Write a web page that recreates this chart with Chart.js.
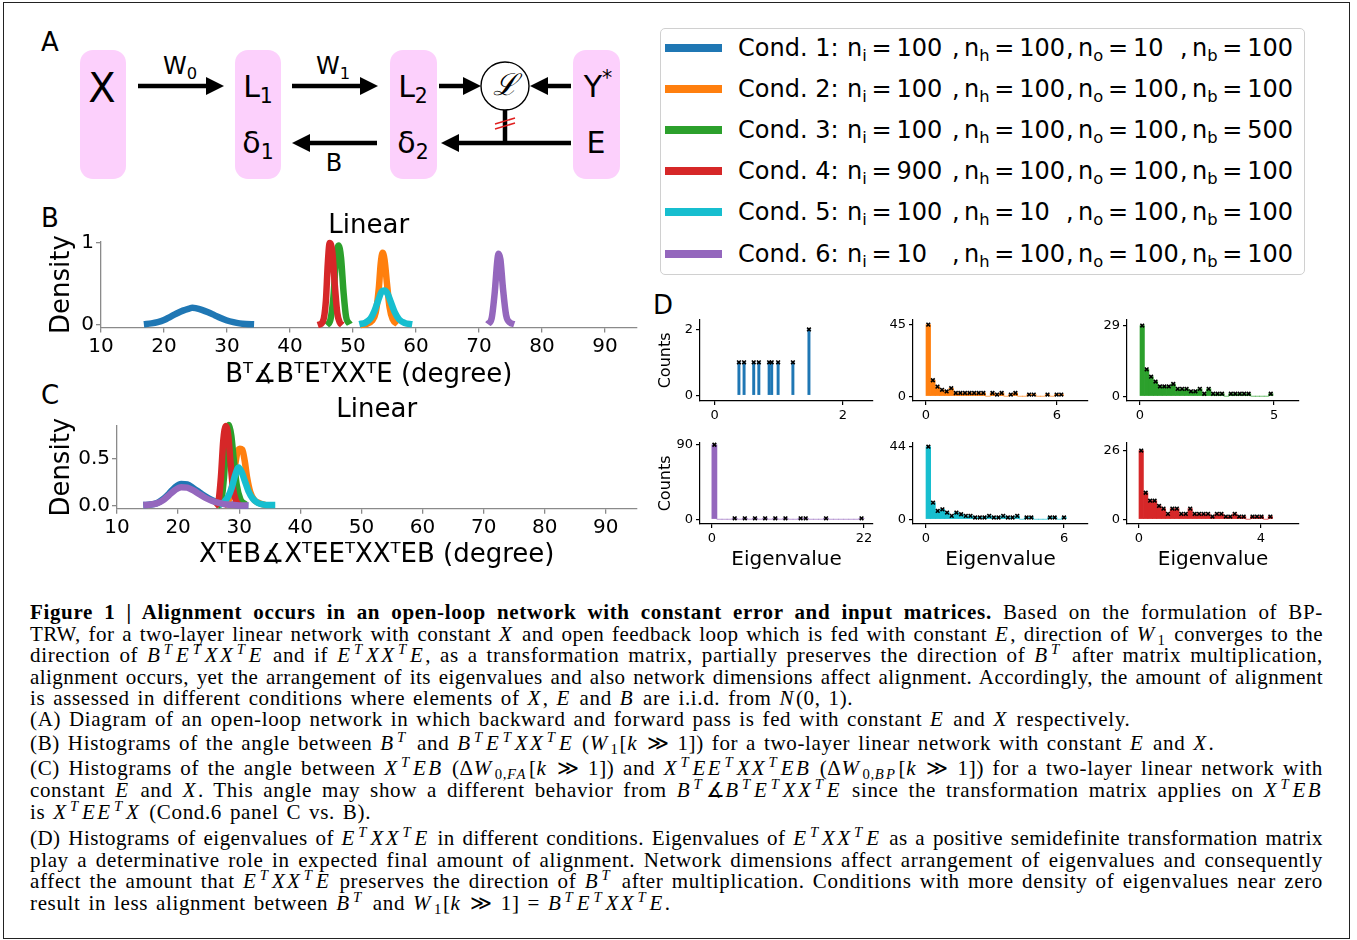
<!DOCTYPE html>
<html><head><meta charset="utf-8">
<script src="https://cdn.jsdelivr.net/npm/chart.js@4.4.1/dist/chart.umd.min.js"></script>
<style>
html,body{margin:0;padding:0;background:#fff;}
body{width:1357px;height:940px;position:relative;overflow:hidden;font-family:"DejaVu Sans",sans-serif;color:#000;}
canvas{position:absolute;}
.abs{position:absolute;}
.c{position:absolute;transform:translate(-50%,-50%);white-space:nowrap;line-height:1;}
.frame{position:absolute;left:3px;top:2px;width:1347px;height:937px;border:1.5px solid #222;box-sizing:border-box;}
.plabel{position:absolute;font-size:26px;line-height:1;transform:translate(-50%,-50%);}
.legend{position:absolute;left:660px;top:28px;width:645px;height:247px;border:1px solid #d0d0d0;border-radius:5px;box-sizing:border-box;background:#fff;}
.lrow{position:absolute;left:0;height:30px;width:1357px;font-size:24px;line-height:30px;}
.lrow span{position:absolute;top:0;white-space:nowrap;}
.lrow .sw{position:absolute;left:665px;top:11px;width:57px;height:8px;}
.lrow sub{font-size:0.68em;vertical-align:-0.28em;line-height:0;}
.cap{position:absolute;left:30px;width:1293px;font-family:"Liberation Serif",serif;font-size:21px;line-height:22px;height:22px;letter-spacing:0.65px;word-spacing:2px;white-space:nowrap;}
.cap.j{text-align:justify;text-align-last:justify;white-space:normal;}
.cap i{letter-spacing:2.4px;}
.cap sup{font-size:0.7em;vertical-align:0.55em;line-height:0;margin:0 1.5px;}
.cap sub{font-size:0.7em;vertical-align:-0.3em;line-height:0;margin:0 1px;}
.dg{font-family:"DejaVu Sans",sans-serif;}
.dg sub{font-size:0.68em;vertical-align:-0.3em;line-height:0;}
.dg sup{font-size:0.68em;vertical-align:0.6em;line-height:0;}
</style></head>
<body>
<div class="frame"></div>

<!-- Panel A diagram -->
<svg class="abs" style="left:0;top:0" width="660" height="200">
  <g fill="#fcd0fc">
    <rect x="80" y="50" width="46" height="129" rx="13"/>
    <rect x="235" y="50" width="46" height="129" rx="13"/>
    <rect x="390" y="50" width="47" height="129" rx="13"/>
    <rect x="573" y="50" width="47" height="129" rx="13"/>
  </g>
  <g stroke="#000" stroke-width="4.5" fill="none">
    <line x1="138" y1="86" x2="210" y2="86"/>
    <line x1="292" y1="86" x2="364" y2="86"/>
    <line x1="439" y1="86" x2="466" y2="86"/>
    <line x1="571" y1="86" x2="545" y2="86"/>
    <line x1="505" y1="110" x2="505" y2="143"/>
    <line x1="571" y1="143" x2="456" y2="143"/>
    <line x1="377" y1="143" x2="306" y2="143"/>
  </g>
  <g fill="#000">
    <polygon points="206,77 224,86 206,95"/>
    <polygon points="360,77 378,86 360,95"/>
    <polygon points="463,77 481,86 463,95"/>
    <polygon points="548,77 530,86 548,95"/>
    <polygon points="459,134 441,143 459,152"/>
    <polygon points="310,134 292,143 310,152"/>
  </g>
  <circle cx="505" cy="86" r="24" fill="#fff" stroke="#000" stroke-width="1.4"/>
  <g stroke="#e02020" stroke-width="1.5">
    <line x1="495" y1="124" x2="515" y2="118"/>
    <line x1="495" y1="129" x2="515" y2="123"/>
  </g>
</svg>
<div class="plabel" style="left:50px;top:42px">A</div>
<div class="c dg" style="left:102px;top:88px;font-size:40px">X</div>
<div class="c dg" style="left:258px;top:87px;font-size:30px">L<sub>1</sub></div>
<div class="c dg" style="left:258px;top:143px;font-size:30px">δ<sub>1</sub></div>
<div class="c dg" style="left:413px;top:87px;font-size:30px">L<sub>2</sub></div>
<div class="c dg" style="left:413px;top:143px;font-size:30px">δ<sub>2</sub></div>
<div class="c dg" style="left:598px;top:87px;font-size:30px">Y<sup>*</sup></div>
<div class="c dg" style="left:596px;top:143px;font-size:30px">E</div>
<div class="c dg" style="left:180px;top:66px;font-size:24px">W<sub>0</sub></div>
<div class="c dg" style="left:333px;top:66px;font-size:24px">W<sub>1</sub></div>
<div class="c dg" style="left:334px;top:163px;font-size:24px">B</div>
<div class="c" style="left:505px;top:85px;font-size:30px;font-family:'DejaVu Serif',serif;font-style:italic">ℒ</div>

<!-- Legend (HTML) -->
<div class="legend"></div>
<div id="legendRows"></div>

<div class="plabel" style="left:50px;top:218px">B</div>
<div class="plabel" style="left:50px;top:395px">C</div>
<div class="plabel" style="left:663px;top:305px">D</div>

<!-- Caption -->
<div class="cap j" style="top:601px"><b>Figure 1 | Alignment occurs in an open-loop network with constant error and input matrices.</b> Based on the formulation of BP-</div>
<div class="cap j" style="top:623px">TRW, for a two-layer linear network with constant <i>X</i> and open feedback loop which is fed with constant <i>E</i>, direction of <i>W</i><sub>1</sub> converges to the</div>
<div class="cap j" style="top:644px">direction of <i>B<sup>T</sup>E<sup>T</sup>XX<sup>T</sup>E</i> and if <i>E<sup>T</sup>XX<sup>T</sup>E</i>, as a transformation matrix, partially preserves the direction of <i>B<sup>T</sup></i> after matrix multiplication,</div>
<div class="cap j" style="top:666px">alignment occurs, yet the arrangement of its eigenvalues and also network dimensions affect alignment. Accordingly, the amount of alignment</div>
<div class="cap" style="top:687px">is assessed in different conditions where elements of <i>X</i>, <i>E</i> and <i>B</i> are i.i.d. from <i>N</i>(0, 1).</div>
<div class="cap" style="top:708px">(A) Diagram of an open-loop network in which backward and forward pass is fed with constant <i>E</i> and <i>X</i> respectively.</div>
<div class="cap" style="top:732px">(B) Histograms of the angle between <i>B<sup>T</sup></i> and <i>B<sup>T</sup>E<sup>T</sup>XX<sup>T</sup>E</i> (<i>W</i><sub>1</sub>[<i>k</i> ≫ 1]) for a two-layer linear network with constant <i>E</i> and <i>X</i>.</div>
<div class="cap j" style="top:757px">(C) Histograms of the angle between <i>X<sup>T</sup>EB</i> (Δ<i>W</i><sub>0,<i>FA</i></sub>[<i>k</i> ≫ 1]) and <i>X<sup>T</sup>EE<sup>T</sup>XX<sup>T</sup>EB</i> (Δ<i>W</i><sub>0,<i>BP</i></sub>[<i>k</i> ≫ 1]) for a two-layer linear network with</div>
<div class="cap j" style="top:779px">constant <i>E</i> and <i>X</i>. This angle may show a different behavior from <i>B<sup>T</sup></i>∡<i>B<sup>T</sup>E<sup>T</sup>XX<sup>T</sup>E</i> since the transformation matrix applies on <i>X<sup>T</sup>EB</i></div>
<div class="cap" style="top:801px">is <i>X<sup>T</sup>EE<sup>T</sup>X</i> (Cond.6 panel C vs. B).</div>
<div class="cap j" style="top:827px">(D) Histograms of eigenvalues of <i>E<sup>T</sup>XX<sup>T</sup>E</i> in different conditions. Eigenvalues of <i>E<sup>T</sup>XX<sup>T</sup>E</i> as a positive semidefinite transformation matrix</div>
<div class="cap j" style="top:849px">play a determinative role in expected final amount of alignment. Network dimensions affect arrangement of eigenvalues and consequently</div>
<div class="cap j" style="top:870px">affect the amount that <i>E<sup>T</sup>XX<sup>T</sup>E</i> preserves the direction of <i>B<sup>T</sup></i> after multiplication. Conditions with more density of eigenvalues near zero</div>
<div class="cap" style="top:892px">result in less alignment between <i>B<sup>T</sup></i> and <i>W</i><sub>1</sub>[<i>k</i> ≫ 1] = <i>B<sup>T</sup>E<sup>T</sup>XX<sup>T</sup>E</i>.</div>

<script>
// ================= DATA =================
// Legend / conditions: [n_i, n_h, n_o, n_b]
const condNames = ['Cond. 1', 'Cond. 2', 'Cond. 3', 'Cond. 4', 'Cond. 5', 'Cond. 6'];
const condNi = ['100', '100', '100', '900', '100', '10'];
const condNh = ['100', '100', '100', '100', '10', '100'];
const condNo = ['10', '100', '100', '100', '100', '100'];
const condNb = ['100', '100', '500', '100', '100', '100'];

// Panel B: angle (degree) vs density
const bCond1 = [[16.8,0.01],[18,0.02],[19,0.035],[20,0.06],[21,0.1],[22,0.14],[23,0.175],[24,0.2],[24.5,0.21],[25,0.205],[26,0.185],[27,0.155],[28,0.12],[29,0.085],[30,0.055],[31,0.035],[32,0.02],[33,0.012],[34.3,0.008]];
const bCond2 = [[51.2,0.0],[52,0.01],[53,0.05],[53.6,0.15],[54.1,0.45],[54.4,0.75],[54.7,0.88],[55,0.8],[55.4,0.5],[55.8,0.22],[56.3,0.07],[57.1,0.01]];
const bCond3 = [[45.8,0.0],[46.4,0.06],[46.9,0.35],[47.3,0.8],[47.7,0.97],[48.1,0.82],[48.5,0.4],[48.9,0.1],[49.5,0.01]];
const bCond4 = [[44.4,0.0],[45.2,0.04],[45.7,0.3],[46.0,0.75],[46.3,1.0],[46.7,0.9],[47.1,0.5],[47.5,0.15],[47.9,0.03],[48.3,0.0]];
const bCond5 = [[51,0.01],[52,0.03],[52.8,0.08],[53.4,0.17],[54,0.3],[54.5,0.4],[55,0.42],[55.5,0.38],[56,0.28],[56.6,0.16],[57.3,0.07],[58.2,0.025],[59.4,0.01]];
const bCond6 = [[71.4,0.01],[72.0,0.08],[72.5,0.4],[72.9,0.78],[73.1,0.87],[73.4,0.8],[73.8,0.45],[74.3,0.12],[74.9,0.03],[75.6,0.01]];
const bXTicks = [10,20,30,40,50,60,70,80,90];
const bYTicks = [0,1];

// Panel C: angle (degree) vs density
const cCond1 = [[14.3,0.01],[15.5,0.015],[16.5,0.03],[17.5,0.07],[18.5,0.13],[19.5,0.2],[20.5,0.235],[21.5,0.23],[22.5,0.19],[23.5,0.145],[24.5,0.1],[25.5,0.065],[26.5,0.04],[27.5,0.025],[28.5,0.015],[30,0.008],[31.5,0.005]];
const cCond2 = [[27.4,0.0],[28.2,0.05],[28.8,0.2],[29.3,0.42],[29.7,0.57],[30.1,0.61],[30.5,0.6],[30.9,0.48],[31.3,0.3],[31.8,0.15],[32.5,0.06],[33.3,0.03],[34.2,0.01]];
const cCond3 = [[26.4,0.0],[27.0,0.04],[27.5,0.3],[27.9,0.7],[28.3,0.86],[28.7,0.75],[29.1,0.5],[29.6,0.22],[30.2,0.07],[31,0.02]];
const cCond4 = [[26.0,0.0],[26.6,0.05],[27.0,0.3],[27.4,0.7],[27.8,0.85],[28.2,0.75],[28.6,0.45],[29.0,0.18],[29.5,0.05],[30,0.01]];
const cCond5 = [[26.7,0.01],[27.5,0.04],[28.2,0.1],[28.8,0.2],[29.3,0.32],[29.9,0.41],[30.4,0.36],[30.9,0.27],[31.5,0.16],[32.2,0.08],[33,0.035],[34,0.015],[35,0.01],[35.9,0.01]];
const cCond6 = [[14.3,0.01],[15.5,0.015],[16.5,0.028],[17.5,0.06],[18.5,0.115],[19.5,0.17],[20.5,0.2],[21.5,0.195],[22.5,0.165],[23.5,0.125],[24.5,0.085],[25.5,0.055],[26.5,0.035],[27.5,0.02],[28.5,0.012],[30,0.006],[31.5,0.004]];
const cXTicks = [10,20,30,40,50,60,70,80,90];
const cYTicks = [0,0.5];

// Panel D: eigenvalue histograms (30 bins from 0 to max eigenvalue)
const dBlueEig = [0.38,0.46,0.61,0.69,0.85,0.89,0.99,1.22,1.47];
const dBlueCnt = [1,1,1,1,1,1,1,1,2];
const dOrangeCnt = [45,10,6,4,3,5,2,2,2,2,2,2,2,0,2,1,2,0,1,2,0,0,1,1,0,0,1,0,1,1];
const dGreenCnt  = [29,11,8,6,4,4,4,5,3,3,3,2,2,3,1,3,1,1,1,0,1,1,1,1,1,0,0,0,0,1];
const dPurpleCnt = [90,0,0,0,1,0,1,0,1,0,1,0,1,0,1,0,0,1,1,0,0,0,1,0,0,0,0,0,0,1];
const dCyanCnt   = [44,10,5,6,4,2,4,3,2,2,1,1,1,2,1,1,2,1,1,2,0,1,1,0,0,0,1,1,0,1];
const dRedCnt    = [26,10,7,7,5,4,2,4,4,2,2,4,2,2,2,2,1,2,2,1,1,2,1,1,0,1,1,1,0,1];
const dMaxEig = {orange: 6.3, green: 4.96, purple: 22, cyan: 6.1, red: 4.38};
const dXTicks = {blue:[0,2], orange:[0,6], green:[0,5], purple:[0,22], cyan:[0,6], red:[0,4]};
const dYTicks = {blue:[0,2], orange:[0,45], green:[0,29], purple:[0,90], cyan:[0,44], red:[0,26]};

// ================= STYLE =================
const condColors = ['#1f77b4','#ff7f0e','#2ca02c','#d62728','#17becf','#9467bd'];
Chart.defaults.font.family = "'DejaVu Sans', sans-serif";
Chart.defaults.color = '#000';

// ---------- Caption: keep each justified line on one line ----------
document.querySelectorAll('.cap.j').forEach(el => {
  el.style.whiteSpace = 'nowrap'; el.style.textAlign = 'left'; el.style.textAlignLast = 'left';
  const range = document.createRange(); range.selectNodeContents(el);
  let ls = 0.65, ws = 2;
  let w = range.getBoundingClientRect().width;
  while (w > 1288 && ls > -1) {
    ls -= 0.05; ws = Math.max(0, ws - 0.1);
    el.style.letterSpacing = ls + 'px'; el.style.wordSpacing = ws + 'px';
    w = range.getBoundingClientRect().width;
  }
  el.style.whiteSpace = ''; el.style.textAlign = ''; el.style.textAlignLast = '';
});

// ---------- Legend ----------
(function(){
  const rowsY = [48, 89, 130, 171, 212, 254];
  const host = document.getElementById('legendRows');
  const eq = '\u2009=\u2009';
  condNames.forEach((nm, i) => {
    const r = document.createElement('div');
    r.className = 'lrow';
    r.style.top = (rowsY[i] - 15) + 'px';
    r.innerHTML =
      `<div class="sw" style="background:${condColors[i]}"></div>` +
      `<span style="left:738px">${nm}:</span>` +
      `<span style="left:847px">n<sub>i</sub>${eq}${condNi[i]}</span>` +
      `<span style="left:952px">,</span>` +
      `<span style="left:964px">n<sub>h</sub>${eq}${condNh[i]}</span>` +
      `<span style="left:1066px">,</span>` +
      `<span style="left:1078px">n<sub>o</sub>${eq}${condNo[i]}</span>` +
      `<span style="left:1180px">,</span>` +
      `<span style="left:1192px">n<sub>b</sub>${eq}${condNb[i]}</span>`;
    host.appendChild(r);
  });
})();

function makeCanvas(id, left, top, w, h){
  const c = document.createElement('canvas');
  c.id = id; c.width = Math.round(w); c.height = Math.round(h);
  c.style.left = left + 'px'; c.style.top = top + 'px';
  c.style.width = Math.round(w) + 'px'; c.style.height = Math.round(h) + 'px';
  document.body.appendChild(c);
  return c;
}

// ---------- Panels B, C ----------
function densityChart(id, o){
  const cv = makeCanvas(id, o.canvasLeft, o.canvasTop, o.canvasW, o.canvasH);
  const ml = o.areaX0 - o.canvasLeft;
  const mr = o.canvasLeft + o.canvasW - o.areaX1;
  const padTop = o.titleY - o.canvasTop - 15.6;
  const titlePadBottom = Math.max(0, o.areaY0 - (o.titleY + 15.6));
  const mb = o.canvasTop + o.canvasH - o.areaY1;
  const gc = '#8a8a8a';
  new Chart(cv, {
    type: 'line',
    data: { datasets: o.curves.map((pts, i) => ({
      label: condNames[i],
      data: pts.map(p => ({x: p[0], y: p[1]})),
      borderColor: condColors[i], backgroundColor: condColors[i],
      borderWidth: 6.5, pointRadius: 0, fill: false,
      cubicInterpolationMode: 'monotone', borderJoinStyle: 'round', borderCapStyle: 'butt',
      order: o.curves.length - 1 - i, clip: 6
    })) },
    options: {
      responsive: false, animation: false, devicePixelRatio: 1,
      layout: { padding: { top: padTop, right: mr, left: 0, bottom: 0 } },
      plugins: {
        legend: { display: false }, tooltip: { enabled: false },
        title: { display: true, text: 'Linear', color: '#000', fullSize: false,
          font: { size: 26, weight: 'normal' }, padding: { top: 0, bottom: titlePadBottom } }
      },
      scales: {
        x: { type: 'linear', min: o.xMin, max: o.xMax,
          afterBuildTicks: s => { s.ticks = o.xTicks.map(v => ({value: v})); },
          ticks: { font: { size: 20 }, color: '#000', padding: 2, maxRotation: 0, autoSkip: false },
          grid: { drawOnChartArea: false, drawTicks: true, tickLength: 5, color: gc, lineWidth: 1.3 },
          border: { display: true, color: gc, width: 1.3 },
          title: { display: true, text: o.xTitle, color: '#000', font: { size: 26 }, padding: { top: 0, bottom: 4.4 } },
          afterFit: s => { s.height = mb; } },
        y: { type: 'linear', min: o.yMin, max: o.yMax,
          afterBuildTicks: s => { s.ticks = o.yTicks.map(v => ({value: v})); },
          ticks: { font: { size: 20 }, color: '#000', padding: 2, callback: o.yFmt },
          grid: { drawOnChartArea: false, drawTicks: true, tickLength: 5, color: gc, lineWidth: 1.3 },
          border: { display: true, color: gc, width: 1.3 },
          title: { display: true, text: 'Density', color: '#000', font: { size: 26 }, padding: { top: 6.4, bottom: 0 } },
          afterFit: s => { s.width = ml; } }
      }
    }
  });
}

densityChart('chartB', {
  canvasLeft: 40, canvasTop: 200, canvasW: 610, canvasH: 195,
  areaX0: 101, areaX1: 636.5, areaY0: 241.6, areaY1: 327.5, titleY: 226,
  curves: [bCond1, bCond2, bCond3, bCond4, bCond5, bCond6],
  xMin: 10, xMax: 95, yMin: -0.0306, yMax: 1.017,
  xTicks: bXTicks, yTicks: bYTicks, yFmt: v => String(v),
  xTitle: 'B\u1D40\u2221B\u1D40E\u1D40XX\u1D40E (degree)'
});

densityChart('chartC', {
  canvasLeft: 40, canvasTop: 385, canvasW: 610, canvasH: 190,
  areaX0: 117, areaX1: 636.4, areaY0: 425.6, areaY1: 508.8, titleY: 410,
  curves: [cCond1, cCond2, cCond3, cCond4, cCond5, cCond6],
  xMin: 10, xMax: 95, yMin: -0.03, yMax: 0.855,
  xTicks: cXTicks, yTicks: cYTicks, yFmt: v => Number(v).toFixed(1),
  xTitle: 'X\u1D40EB\u2221X\u1D40EE\u1D40XX\u1D40EB (degree)'
});

// ---------- Panel D ----------
function binsFrom(counts, maxEig){
  const w = maxEig / counts.length;
  return counts.map((c, i) => ({x: (i + 0.5) * w, y: c}));
}
function histChart(id, o){
  const [x0, y0, x1, y1] = o.area;
  const m = o.m;
  const cv = makeCanvas(id, x0 - m.l, y0 - m.t, (x1 - x0) + m.l + m.r, (y1 - y0) + m.t + m.b);
  const markers = o.bars.filter(p => p.y > 0);
  new Chart(cv, {
    type: 'bar',
    data: { datasets: [
      { type: 'line', data: markers, showLine: false, pointStyle: 'crossRot', pointRadius: 2.6,
        pointBorderWidth: 1.6, pointBorderColor: '#000', pointBackgroundColor: '#000', order: 0, clip: false },
      { type: 'bar', data: o.bars, backgroundColor: o.color, borderWidth: 0,
        barPercentage: 1, categoryPercentage: 1, barThickness: o.barThickness, order: 1, clip: false }
    ] },
    options: {
      responsive: false, animation: false, devicePixelRatio: 1,
      layout: { padding: { top: m.t, right: m.r, left: 0, bottom: 0 } },
      plugins: { legend: { display: false }, tooltip: { enabled: false } },
      scales: {
        x: { type: 'linear', min: o.xMin, max: o.xMax, offset: false,
          afterBuildTicks: s => { s.ticks = o.xTicks.map(v => ({value: v})); },
          ticks: { font: { size: 13 }, color: '#000', padding: 3, maxRotation: 0, autoSkip: false },
          grid: { offset: false, drawOnChartArea: false, drawTicks: true, tickLength: 4, color: '#000', lineWidth: 1.2 },
          border: { display: true, color: '#000', width: 1.2 },
          title: { display: !!o.xTitle, text: o.xTitle || '', color: '#000', font: { size: 20 }, padding: { top: 0, bottom: 4 } },
          afterFit: s => { s.height = m.b; } },
        y: { type: 'linear', min: o.yMin, max: o.yMax,
          afterBuildTicks: s => { s.ticks = o.yTicks.map(v => ({value: v})); },
          ticks: { font: { size: 13 }, color: '#000', padding: 3 },
          grid: { drawOnChartArea: false, drawTicks: true, tickLength: 4, color: '#000', lineWidth: 1.2 },
          border: { display: true, color: '#000', width: 1.2 },
          title: { display: !!o.yTitle, text: o.yTitle || '', color: '#000', font: { size: 16 }, padding: { top: 1.4, bottom: 0 } },
          afterFit: s => { s.width = m.l; } }
      }
    }
  });
}

const row1 = [317, 401], row2 = [440, 524];
const col1 = [700, 873], col2 = [913, 1088], col3 = [1127, 1299];
const mTopL = {l: 45, t: 8, r: 10, b: 25}, mTop = {l: 40, t: 8, r: 10, b: 25};
const mBotL = {l: 45, t: 8, r: 10, b: 52}, mBot = {l: 40, t: 8, r: 10, b: 52};

histChart('dBlue', { area: [col1[0], row1[0], col1[1], row1[1]], m: mTopL,
  bars: dBlueEig.map((e, i) => ({x: e, y: dBlueCnt[i]})), color: condColors[0], barThickness: 2.3,
  xMin: -0.226, xMax: 2.467, yMin: -0.176, yMax: 2.294, xTicks: dXTicks.blue, yTicks: dYTicks.blue, yTitle: 'Counts' });
histChart('dOrange', { area: [col2[0], row1[0], col2[1], row1[1]], m: mTop,
  bars: binsFrom(dOrangeCnt, dMaxEig.orange), color: condColors[1],
  xMin: -0.595, xMax: 7.42, yMin: -3.04, yMax: 48.04, xTicks: dXTicks.orange, yTicks: dYTicks.orange });
histChart('dGreen', { area: [col3[0], row1[0], col3[1], row1[1]], m: mTop,
  bars: binsFrom(dGreenCnt, dMaxEig.green), color: condColors[2],
  xMin: -0.485, xMax: 5.93, yMin: -1.99, yMax: 31.38, xTicks: dXTicks.green, yTicks: dYTicks.green });
histChart('dPurple', { area: [col1[0], row2[0], col1[1], row2[1]], m: mBotL,
  bars: binsFrom(dPurpleCnt, dMaxEig.purple), color: condColors[5],
  xMin: -1.714, xMax: 23.29, yMin: -5.84, yMax: 92.34, xTicks: dXTicks.purple, yTicks: dYTicks.purple,
  yTitle: 'Counts', xTitle: 'Eigenvalue' });
histChart('dCyan', { area: [col2[0], row2[0], col2[1], row2[1]], m: mBot,
  bars: binsFrom(dCyanCnt, dMaxEig.cyan), color: condColors[4],
  xMin: -0.565, xMax: 7.04, yMin: -2.93, yMax: 46.35, xTicks: dXTicks.cyan, yTicks: dYTicks.cyan, xTitle: 'Eigenvalue' });
histChart('dRed', { area: [col3[0], row2[0], col3[1], row2[1]], m: mBot,
  bars: binsFrom(dRedCnt, dMaxEig.red), color: condColors[3],
  xMin: -0.393, xMax: 5.246, yMin: -1.83, yMax: 28.93, xTicks: dXTicks.red, yTicks: dYTicks.red, xTitle: 'Eigenvalue' });
</script>
</body></html>
